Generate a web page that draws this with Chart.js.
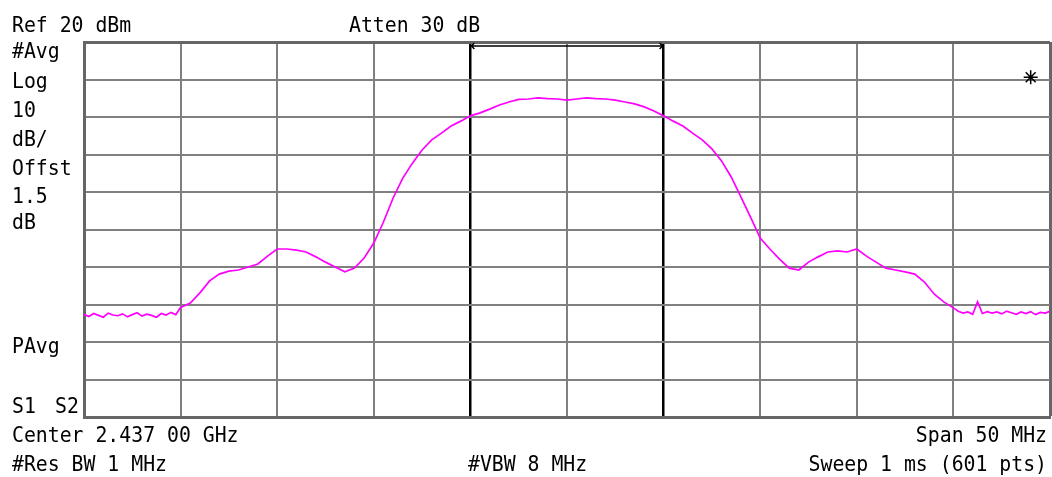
<!DOCTYPE html>
<html>
<head>
<meta charset="utf-8">
<script src="https://cdn.jsdelivr.net/npm/chart.js@4.4.1/dist/chart.umd.min.js"></script>
<style>
  body { margin: 0; background: #fff; }
  #wrap { width: 1052px; height: 477px; position: relative; }
</style>
</head>
<body>
<div id="wrap"><canvas id="myChart"></canvas></div>
<script>
// analyzer settings (frequency offset from centre, MHz; level, dBm)
const refLevel = 20;
const dbPerDiv = 10;
const spanMHz = 50;
const headerLabels = ["Ref 20 dBm", "Atten 30 dB"];
const sideLabels = ["#Avg", "Log", "10", "dB/", "Offst", "1.5", "dB"];
const footerLabels = ["Center 2.437 00 GHz", "Span 50 MHz", "#Res BW 1 MHz", "#VBW 8 MHz", "Sweep 1 ms (601 pts)"];
const channelEdges = [-5, 5];
const markerPoint = [{ x: 24.0, y: 10.6 }];

const traceMHz = [
  -25, -24.75, -24.5, -24.25, -24, -23.75, -23.5, -23.25, -23, -22.75, -22.5,
  -22.25, -22, -21.75, -21.5, -21.25, -21, -20.75, -20.5, -20.25, -20,
  -19.5, -19, -18.5, -18, -17.5, -17, -16.5, -16, -15.5, -15, -14.5, -14,
  -13.5, -13, -12.5, -12, -11.5, -11, -10.5, -10, -9.5, -9, -8.5, -8, -7.5,
  -7, -6.5, -6, -5.5, -5, -4.5, -4, -3.5, -3, -2.5, -2, -1.5, -1, -0.5, 0,
  0.5, 1, 1.5, 2, 2.5, 3, 3.5, 4, 4.5, 5, 5.5, 6, 6.5, 7, 7.5, 8, 8.5, 9,
  9.5, 10, 10.5, 11, 11.5, 12, 12.5, 13, 13.5, 14, 14.5, 15, 15.5, 16, 16.5,
  17, 17.5, 18, 18.5, 19, 19.5, 20,
  20.25, 20.5, 20.75, 21, 21.25, 21.5, 21.75, 22, 22.25, 22.5, 22.75, 23,
  23.25, 23.5, 23.75, 24, 24.25, 24.5, 24.75, 25
];
const traceDbm = [
  -52.6, -53.2, -52.4, -52.9, -53.4, -52.3, -52.8, -53.0, -52.5, -53.3, -52.7,
  -52.2, -53.1, -52.6, -52.9, -53.4, -52.4, -52.8, -52.1, -52.7, -50.8,
  -49.6, -46.9, -43.7, -41.9, -41.1, -40.8, -40.0, -39.2, -37.1, -35.2, -35.2, -35.5,
  -36.0, -37.3, -38.7, -40.0, -41.3, -40.3, -37.6, -33.6, -28.0, -21.6, -16.3, -12.3, -8.8,
  -6.1, -4.3, -2.4, -1.1, 0.3, 1.1, 2.1, 3.2, 4.0, 4.7, 4.8, 5.1, 4.9, 4.8, 4.5,
  4.8, 5.1, 4.9, 4.8, 4.5, 4.0, 3.5, 2.7, 1.6, 0.3, -1.1, -2.4, -4.3, -6.1, -8.5, -11.7, -16.0, -21.3,
  -26.7, -32.3, -35.2, -37.9, -40.3, -40.8, -38.7, -37.3, -36.0, -35.7, -36.0, -35.2, -37.1, -38.7, -40.3,
  -40.8, -41.3, -41.9, -44.0, -47.2, -49.3, -50.9,
  -51.8, -52.3, -52.0, -52.6, -49.3, -52.4, -51.9, -52.3, -52.0, -52.5, -51.8, -52.2,
  -52.6, -52.0, -52.4, -51.9, -52.7, -52.1, -52.3, -51.8
];

const FONT = "22px 'DejaVu Sans Mono'";
function txt(ctx, s, x, y, align) {
  ctx.save();
  ctx.font = FONT;
  ctx.fillStyle = "#000";
  ctx.textBaseline = "alphabetic";
  ctx.textAlign = align || "left";
  ctx.translate(x, y);
  ctx.scale(0.9, 1);
  ctx.fillText(s, 0, 0);
  ctx.restore();
}

const analyzerText = {
  id: "analyzerText",
  afterDraw(chart) {
    const ctx = chart.ctx;
    const xs = chart.scales.x;
    txt(ctx, headerLabels[0], 12, 32);
    txt(ctx, headerLabels[1], 349, 32);
    const rows = [58, 88, 117, 146, 175, 203, 229];
    sideLabels.forEach((s, i) => txt(ctx, s, 12, rows[i]));
    txt(ctx, "PAvg", 12, 353);
    txt(ctx, "S1", 12, 413);
    txt(ctx, "S2", 55, 413);
    txt(ctx, footerLabels[0], 12, 442);
    txt(ctx, footerLabels[1], 1047, 442, "right");
    txt(ctx, footerLabels[2], 12, 471);
    txt(ctx, footerLabels[3], 468, 471);
    txt(ctx, footerLabels[4], 1047, 471, "right");

    // channel bracket with arrows
    const x1 = xs.getPixelForValue(channelEdges[0]);
    const x2 = xs.getPixelForValue(channelEdges[1]);
    const y = chart.chartArea.top + 4;
    ctx.save();
    ctx.strokeStyle = "#000";
    ctx.lineWidth = 1.5;
    ctx.beginPath();
    ctx.moveTo(x1, y); ctx.lineTo(x2, y);
    ctx.moveTo(x1 + 4, y - 3); ctx.lineTo(x1 + 1, y); ctx.lineTo(x1 + 4, y + 3);
    ctx.moveTo(x2 - 4, y - 3); ctx.lineTo(x2 - 1, y); ctx.lineTo(x2 - 4, y + 3);
    ctx.stroke();
    ctx.restore();
  }
};

const ctx = document.getElementById("myChart").getContext("2d");
new Chart(ctx, {
  type: "line",
  data: {
    datasets: [
      {
        data: traceMHz.map((f, i) => ({ x: f, y: traceDbm[i] })),
        borderColor: "#ff00ff",
        borderWidth: 1.7,
        pointRadius: 0,
        tension: 0,
      },
      {
        type: "scatter",
        data: markerPoint,
        pointStyle: "star",
        pointRadius: 7,
        borderColor: "#000",
        borderWidth: 1.5,
      },
    ],
  },
  options: {
    responsive: true,
    maintainAspectRatio: false,
    animation: false,
    layout: { autoPadding: false, padding: { left: 84, right: 2, top: 42, bottom: 60 } },
    plugins: { legend: { display: false }, tooltip: { enabled: false } },
    scales: {
      x: {
        type: "linear",
        min: -spanMHz / 2,
        max: spanMHz / 2,
        ticks: { display: false, stepSize: spanMHz / 10 },
        border: { color: "#666", width: 3 },
        grid: {
          drawTicks: false,
          color: (c) => (c.index === 4 || c.index === 6 ? "#000" : c.index === 10 ? "#666" : "#808080"),
          lineWidth: (c) => (c.index === 4 || c.index === 6 ? 2.5 : c.index === 10 ? 3 : 2),
        },
      },
      y: {
        min: refLevel - 10 * dbPerDiv,
        max: refLevel,
        ticks: { display: false, stepSize: dbPerDiv },
        border: { color: "#666", width: 3 },
        grid: {
          drawTicks: false,
          color: (c) => (c.index === 10 ? "#666" : "#808080"),
          lineWidth: (c) => (c.index === 10 ? 3 : 2),
        },
      },
    },
  },
  plugins: [analyzerText],
});
</script>
</body>
</html>
